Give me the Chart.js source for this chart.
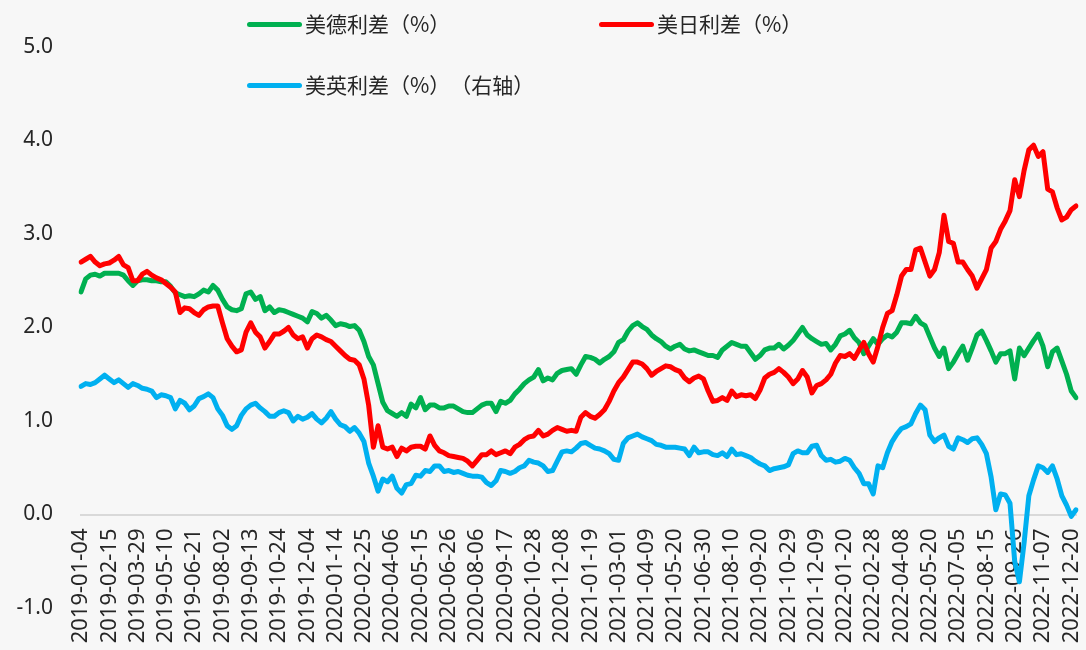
<!DOCTYPE html>
<html>
<head>
<meta charset="utf-8">
<script src="https://cdn.jsdelivr.net/npm/chart.js@4/dist/chart.umd.min.js"></script>
<style>
  body { margin: 0; background: #f7f7f7; }
  #wrap { position: relative; width: 1086px; height: 650px; }
  .lg { position: absolute; font: 21px "Noto Sans CJK SC", sans-serif; color: #262626; white-space: nowrap; line-height: 24px; text-spacing-trim: space-all; }
  .lg span { display: inline-block; width: 55px; height: 5px; border-radius: 3px; vertical-align: middle; margin-right: 3px; position: relative; top: -2px; }
</style>
</head>
<body>
<div id="wrap">
  <canvas id="spreadChart" width="1086" height="650"></canvas>
  <div class="lg" style="left:247px;top:11px"><span style="background:#00b050"></span>美德利差（%）</div>
  <div class="lg" style="left:599px;top:11px"><span style="background:#ff0000"></span>美日利差（%）</div>
  <div class="lg" style="left:247px;top:72px"><span style="background:#00b0f0"></span>美英利差（%）（右轴）</div>
</div>
<script>
// one point every 5 trading days, axis label every 6 points (30 trading days)
var tickLabels = ["2019-01-04","2019-02-15","2019-03-29","2019-05-10","2019-06-21","2019-08-02",
  "2019-09-13","2019-10-24","2019-12-04","2020-01-14","2020-02-25","2020-04-06","2020-05-15",
  "2020-06-26","2020-08-06","2020-09-17","2020-10-28","2020-12-08","2021-01-19","2021-03-01",
  "2021-04-09","2021-05-20","2021-06-30","2021-08-10","2021-09-20","2021-10-29","2021-12-09",
  "2022-01-20","2022-02-28","2022-04-08","2022-05-20","2022-07-05","2022-08-15","2022-09-26",
  "2022-11-07","2022-12-20"];

var usDe = [2.38,2.52,2.56,2.57,2.55,2.58,2.58,2.58,2.58,2.56,
  2.50,2.45,2.50,2.51,2.51,2.50,2.50,2.49,2.49,2.44,
  2.37,2.35,2.33,2.34,2.33,2.36,2.40,2.38,2.45,2.40,
  2.30,2.22,2.19,2.18,2.20,2.36,2.38,2.30,
  2.33,2.18,2.22,2.16,2.19,2.18,2.16,2.14,2.12,2.10,
  2.06,2.17,2.15,2.10,2.13,2.08,2.02,2.04,2.03,2.01,
  2.02,1.97,1.85,1.69,1.60,1.40,1.20,1.11,1.08,1.05,
  1.09,1.05,1.18,1.14,1.25,1.12,1.17,1.17,1.14,1.14,
  1.16,1.16,1.13,1.10,1.09,1.09,1.13,1.17,1.19,1.19,
  1.10,1.21,1.19,1.22,1.29,1.34,1.40,1.44,1.47,1.55,
  1.43,1.46,1.44,1.51,1.54,1.55,1.56,1.50,1.60,1.69,
  1.68,1.66,1.62,1.66,1.69,1.74,1.84,1.87,1.96,2.02,
  2.05,2.01,1.98,1.92,1.88,1.85,1.80,1.77,1.80,1.82,
  1.77,1.75,1.76,1.74,1.72,1.70,1.70,1.68,1.76,1.80,
  1.84,1.82,1.80,1.80,1.73,1.66,1.70,1.76,1.78,1.78,
  1.82,1.77,1.81,1.86,1.93,2.00,1.92,1.88,1.85,1.82,
  1.83,1.76,1.82,1.91,1.93,1.97,1.89,1.84,1.72,1.80,
  1.88,1.82,1.88,1.92,1.90,1.95,2.05,2.05,2.04,2.12,
  2.05,2.02,1.90,1.78,1.69,1.78,1.56,1.63,1.72,1.80,
  1.65,1.78,1.92,1.96,1.86,1.75,1.63,1.72,1.72,1.75,
  1.45,1.78,1.70,1.78,1.86,1.93,1.80,1.58,1.74,1.78,
  1.64,1.50,1.32,1.25];

var usJp = [2.70,2.73,2.76,2.70,2.66,2.68,2.69,2.72,2.76,2.67,
  2.64,2.50,2.50,2.57,2.60,2.56,2.53,2.51,2.47,2.43,
  2.38,2.16,2.21,2.20,2.16,2.13,2.19,2.22,2.23,2.23,
  2.05,1.88,1.80,1.74,1.76,1.95,2.05,1.95,
  1.90,1.78,1.85,1.93,1.93,1.96,2.00,1.92,1.88,1.90,
  1.78,1.88,1.92,1.90,1.87,1.85,1.80,1.75,1.70,1.66,
  1.65,1.60,1.45,1.17,0.72,0.95,0.72,0.70,0.72,0.62,
  0.71,0.68,0.72,0.73,0.73,0.70,0.84,0.74,0.68,0.66,
  0.63,0.62,0.61,0.60,0.57,0.52,0.58,0.64,0.64,0.68,
  0.64,0.66,0.68,0.65,0.72,0.75,0.80,0.83,0.84,0.90,
  0.84,0.86,0.90,0.93,0.91,0.89,0.90,0.89,1.04,1.09,
  1.05,1.03,1.07,1.12,1.21,1.32,1.41,1.47,1.55,1.63,
  1.63,1.61,1.56,1.49,1.53,1.56,1.59,1.58,1.55,1.53,
  1.46,1.42,1.46,1.48,1.45,1.32,1.21,1.22,1.25,1.22,
  1.32,1.26,1.28,1.27,1.28,1.24,1.33,1.46,1.50,1.52,
  1.56,1.52,1.47,1.40,1.45,1.54,1.47,1.30,1.38,1.40,
  1.44,1.50,1.62,1.70,1.69,1.72,1.67,1.76,1.84,1.72,
  1.63,1.80,2.00,2.15,2.18,2.35,2.55,2.62,2.62,2.83,
  2.85,2.70,2.55,2.62,2.80,3.20,2.92,2.90,2.70,2.70,
  2.62,2.55,2.42,2.52,2.62,2.85,2.92,3.05,3.14,3.25,
  3.58,3.40,3.68,3.90,3.95,3.83,3.88,3.48,3.45,3.28,
  3.15,3.18,3.26,3.30];

var usUk = [1.37,1.40,1.39,1.41,1.45,1.49,1.45,1.41,1.44,1.40,
  1.36,1.40,1.38,1.35,1.34,1.32,1.25,1.28,1.27,1.25,
  1.13,1.22,1.19,1.12,1.16,1.24,1.26,1.29,1.25,1.13,
  1.06,0.95,0.91,0.95,1.06,1.13,1.17,1.19,
  1.14,1.10,1.05,1.05,1.09,1.11,1.09,1.00,1.05,1.02,
  1.04,1.08,1.02,0.98,1.03,1.10,1.02,0.96,0.94,0.89,
  0.93,0.87,0.78,0.55,0.41,0.25,0.38,0.35,0.41,0.28,
  0.23,0.32,0.33,0.42,0.41,0.47,0.46,0.52,0.52,0.46,
  0.47,0.45,0.46,0.44,0.42,0.41,0.41,0.40,0.34,0.31,
  0.36,0.47,0.46,0.44,0.46,0.50,0.52,0.58,0.56,0.55,
  0.52,0.46,0.47,0.57,0.67,0.68,0.67,0.71,0.76,0.77,
  0.74,0.71,0.70,0.68,0.65,0.59,0.58,0.76,0.82,0.84,
  0.86,0.83,0.81,0.79,0.75,0.74,0.72,0.72,0.72,0.71,
  0.70,0.63,0.72,0.66,0.67,0.67,0.64,0.63,0.66,0.62,
  0.70,0.64,0.65,0.63,0.61,0.57,0.54,0.52,0.47,0.49,
  0.50,0.51,0.53,0.65,0.68,0.66,0.66,0.73,0.74,0.63,
  0.58,0.59,0.56,0.57,0.60,0.58,0.50,0.44,0.33,0.33,
  0.22,0.52,0.50,0.66,0.78,0.86,0.92,0.94,0.97,1.08,
  1.17,1.12,0.85,0.78,0.82,0.85,0.73,0.70,0.82,0.80,
  0.77,0.81,0.82,0.75,0.65,0.40,0.05,0.22,0.21,0.12,
  -0.50,-0.72,-0.30,0.20,0.37,0.52,0.50,0.45,0.52,0.38,
  0.20,0.10,-0.02,0.05];

var labels = usDe.map(function(v, i) {
  return i % 6 == 0 ? tickLabels[i / 6] : "";
});

function lineSet(label, data, color, axis, order) {
  return {
    label: label,
    data: data,
    borderColor: color,
    borderWidth: 5,
    borderJoinStyle: "round",
    borderCapStyle: "round",
    pointRadius: 0,
    tension: 0,
    fill: false,
    yAxisID: axis,
    order: order
  };
}

var ctx = document.getElementById("spreadChart").getContext("2d");
var spreadChart = new Chart(ctx, {
  type: "line",
  data: {
    labels: labels,
    datasets: [
      lineSet("美德利差（%）", usDe, "#00b050", "y", 3),
      lineSet("美日利差（%）", usJp, "#ff0000", "y", 2),
      lineSet("美英利差（%）（右轴）", usUk, "#00b0f0", "y1", 1)
    ]
  },
  options: {
    responsive: false,
    animation: false,
    devicePixelRatio: 1,
    layout: { padding: { top: 47, bottom: 42, left: 0, right: 10 } },
    plugins: { legend: { display: false }, tooltip: { enabled: false } },
    scales: {
      x: {
        position: { y: 0 },
        grid: { display: false, drawTicks: false },
        border: { display: true, color: "#d9d9d9", width: 2 },
        // rotated labels ask for extra room on the right, drop it
        afterFit: function(scale) { scale.paddingLeft = 0; scale.paddingRight = 0; },
        ticks: {
          autoSkip: false,
          minRotation: 90,
          maxRotation: 90,
          padding: 14,
          color: "#262626",
          font: { family: "'Noto Sans', sans-serif", size: 22 },
          callback: function(value, index) {
            return labels[index];
          }
        }
      },
      y: {
        position: "left",
        min: -1,
        max: 5,
        grid: { display: false, drawTicks: false },
        border: { display: false },
        afterFit: function(scale) { scale.width = 81; },
        ticks: {
          stepSize: 1,
          padding: 28,
          color: "#262626",
          font: { family: "'Noto Sans', sans-serif", size: 21 },
          callback: function(value) { return value.toFixed(1); }
        }
      },
      y1: {
        position: "right",
        display: false,
        min: -1,
        max: 5
      }
    }
  }
});
</script>
</body>
</html>
